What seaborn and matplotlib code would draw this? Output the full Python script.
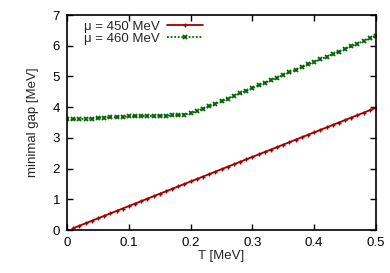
import pandas as pd
import matplotlib
matplotlib.use('Agg')
import matplotlib.pyplot as plt
import seaborn as sns

# Data
T_red = [0.01, 0.02, 0.03, 0.04, 0.05, 0.06, 0.07, 0.08, 0.09, 0.10,
         0.11, 0.12, 0.13, 0.14, 0.15, 0.16, 0.17, 0.18, 0.19, 0.20,
         0.21, 0.22, 0.23, 0.24, 0.25, 0.26, 0.27, 0.28, 0.29, 0.30,
         0.31, 0.32, 0.33, 0.34, 0.35, 0.36, 0.37, 0.38, 0.39, 0.40,
         0.41, 0.42, 0.43, 0.44, 0.45, 0.46, 0.47, 0.48, 0.49, 0.50]
gap_450 = [0.06, 0.14, 0.22, 0.30, 0.38, 0.46, 0.54, 0.62, 0.70, 0.78,
           0.86, 0.94, 1.02, 1.10, 1.18, 1.26, 1.34, 1.42, 1.50, 1.58,
           1.66, 1.74, 1.82, 1.90, 1.98, 2.06, 2.14, 2.22, 2.30, 2.38,
           2.46, 2.54, 2.62, 2.70, 2.78, 2.86, 2.94, 3.02, 3.10, 3.18,
           3.26, 3.34, 3.42, 3.50, 3.58, 3.66, 3.74, 3.82, 3.90, 3.98]

T_green = [0.00, 0.01, 0.02, 0.03, 0.04, 0.05, 0.06, 0.07, 0.08, 0.09, 0.10,
           0.11, 0.12, 0.13, 0.14, 0.15, 0.16, 0.17, 0.18, 0.19, 0.20,
           0.21, 0.22, 0.23, 0.24, 0.25, 0.26, 0.27, 0.28, 0.29, 0.30,
           0.31, 0.32, 0.33, 0.34, 0.35, 0.36, 0.37, 0.38, 0.39, 0.40,
           0.41, 0.42, 0.43, 0.44, 0.45, 0.46, 0.47, 0.48, 0.49, 0.50]
gap_460 = [3.60, 3.60, 3.61, 3.62, 3.63, 3.65, 3.66, 3.67, 3.68, 3.69, 3.70,
           3.70, 3.71, 3.71, 3.72, 3.72, 3.72, 3.73, 3.74, 3.76, 3.80,
           3.87, 3.95, 4.03, 4.11, 4.20, 4.28, 4.37, 4.45, 4.54, 4.62,
           4.71, 4.79, 4.88, 4.96, 5.05, 5.13, 5.22, 5.30, 5.39, 5.47,
           5.56, 5.64, 5.73, 5.81, 5.90, 5.98, 6.07, 6.15, 6.24, 6.33]

df_red = pd.DataFrame({'T': T_red, 'gap': gap_450})
df_green = pd.DataFrame({'T': T_green, 'gap': gap_460})

sns.set_style("ticks")
plt.rcParams['font.family'] = ['Liberation Sans', 'DejaVu Sans']

fig = plt.figure(figsize=(3.9, 2.73), dpi=100)
ax = fig.add_axes([0.172, 0.1575, 0.792, 0.7875])

red = '#a00000'
green = '#006400'
sns.lineplot(data=df_red, x='T', y='gap', ax=ax, color=red, lw=1.3,
             marker='+', markersize=3.5, markeredgewidth=1.0,
             markeredgecolor=red, label='\u03bc = 450 MeV')
sns.lineplot(data=df_green, x='T', y='gap', ax=ax, color=green, lw=1.3,
             linestyle=(0, (1, 1)), marker='x', markersize=3.5,
             markeredgewidth=1.3, markeredgecolor=green,
             label='\u03bc = 460 MeV')

ax.set_xlim(0, 0.5)
ax.set_ylim(0, 7)
ax.set_xticks([0, 0.1, 0.2, 0.3, 0.4, 0.5])
ax.set_xticklabels(['0', '0.1', '0.2', '0.3', '0.4', '0.5'])
ax.set_yticks(range(8))
ax.tick_params(direction='in', length=4, width=1, labelsize=9.5,
               top=True, right=True, pad=5, colors='black')
for s in ax.spines.values():
    s.set_visible(True)
    s.set_linewidth(1.2)
    s.set_color('black')

ax.set_xlabel('T [MeV]', fontsize=9.5, labelpad=1)
ax.set_ylabel('minimal gap [MeV]', fontsize=9.5, labelpad=10)

ax.legend(loc='upper left', frameon=False, fontsize=9.5, markerfirst=False,
          handlelength=2.7, handletextpad=0.6, borderaxespad=0.0,
          labelspacing=0.0, bbox_to_anchor=(0.037, 1.0))

fig.savefig('out.png', dpi=100)
